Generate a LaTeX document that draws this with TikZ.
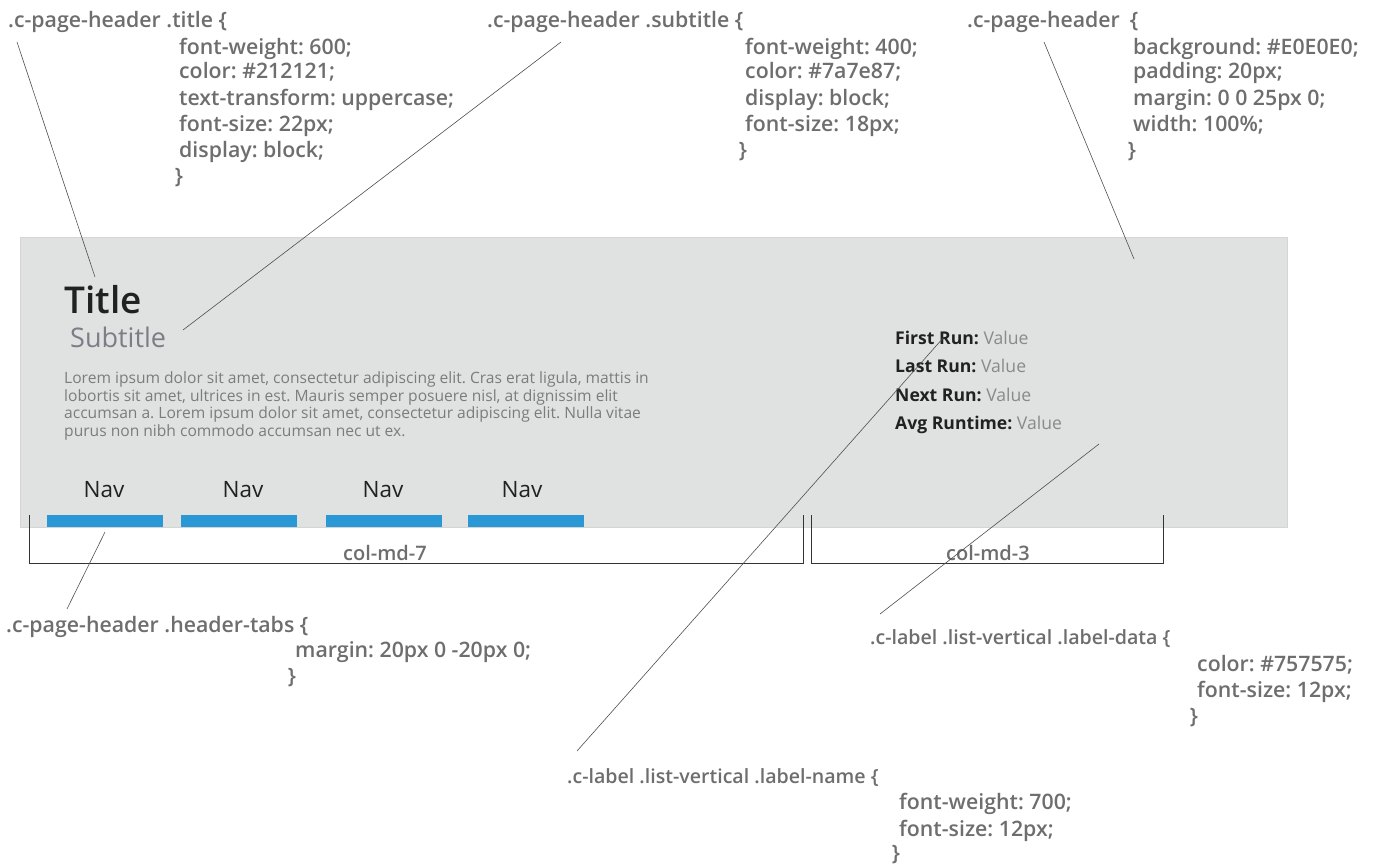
\documentclass[tikz,border=0pt]{standalone}
\usepackage{fontspec}
\setmainfont{Open Sans}
\newfontfamily\semib{Open Sans Semibold}
\frenchspacing
\definecolor{annc}{HTML}{6E6E6E}
\definecolor{leadc}{HTML}{505050}
\definecolor{hdrbg}{HTML}{E0E1E1}
\definecolor{hdrbd}{HTML}{D4D6D6}
\definecolor{titlec}{HTML}{212121}
\definecolor{subc}{HTML}{7A7E87}
\definecolor{loremc}{HTML}{7C7C7C}
\definecolor{valc}{HTML}{8A8A8A}
\definecolor{tabc}{HTML}{2998D5}
\definecolor{brc}{HTML}{333333}
\tikzset{
  ann/.style={font=\semib\fontsize{21.3}{25}\selectfont, text=annc, anchor=base west, inner sep=0pt},
  annsm/.style={ann, font=\semib\fontsize{19.6}{23}\selectfont},
  leader/.style={draw=leadc, line width=0.6pt},
  lorem/.style={font=\fontsize{15.6}{18}\selectfont, text=loremc, anchor=base west, inner sep=0pt},
  navlbl/.style={font=\fontsize{22.5}{26}\selectfont, text=titlec, anchor=base, inner sep=0pt},
  tab/.style={fill=tabc, draw=none},
  info/.style={font=\fontsize{17.6}{20}\selectfont, anchor=base west, inner sep=0pt},
  bracket/.style={draw=brc, line width=0.9pt},
  collbl/.style={font=\semib\fontsize{20}{24}\selectfont, text=annc, anchor=base, inner sep=0pt}
}
\begin{document}
\begin{tikzpicture}[x=1pt,y=-1pt]
\useasboundingbox[fill=white] (0,0) rectangle (1377,865);
% header box
\path[fill=hdrbg, draw=hdrbd, line width=0.8pt] (20,237) rectangle (1287,527);
\node[anchor=base west, inner sep=0pt, font=\semib\fontsize{37}{40}\selectfont, text=titlec] (title) at (64,313) {Title};
\node[anchor=base west, inner sep=0pt, font=\fontsize{27}{30}\selectfont, text=subc] (subtitle) at (70,347) {Subtitle};
\node[lorem] (l1) at (64,383) {Lorem ipsum dolor sit amet, consectetur adipiscing elit. Cras erat ligula, mattis in};
\node[lorem] (l2) at (64,401) {lobortis sit amet, ultrices in est. Mauris semper posuere nisl, at dignissim elit};
\node[lorem] (l3) at (64,418) {accumsan a. Lorem ipsum dolor sit amet, consectetur adipiscing elit. Nulla vitae};
\node[lorem] (l4) at (64,436) {purus non nibh commodo accumsan nec ut ex.};
% nav
\node[navlbl] (n1) at (104,497) {Nav};
\node[navlbl] (n2) at (243,497) {Nav};
\node[navlbl] (n3) at (383,497) {Nav};
\node[navlbl] (n4) at (522,497) {Nav};
\path[tab] (47,515) rectangle (163,527);
\path[tab] (181,515) rectangle (297,527);
\path[tab] (326,515) rectangle (442,527);
\path[tab] (468,515) rectangle (584,527);
% info list
\node[info] (i1) at (895,344) {\textcolor{titlec}{\bfseries First Run:} \textcolor{valc}{Value}};
\node[info] (i2) at (895,372) {\textcolor{titlec}{\bfseries Last Run:} \textcolor{valc}{Value}};
\node[info] (i3) at (895,401) {\textcolor{titlec}{\bfseries Next Run:} \textcolor{valc}{Value}};
\node[info] (i4) at (895,429) {\textcolor{titlec}{\bfseries Avg Runtime:} \textcolor{valc}{Value}};
% brackets
\draw[bracket] (29,515) -- (29,563) -- (803,563) -- (803,515);
\draw[bracket] (811,515) -- (811,563) -- (1163,563) -- (1163,515);
\node[collbl] (c7) at (385,560) {col-md-7};
\node[collbl] (c3) at (988,560) {col-md-3};
% annotation: title
\node[ann] (a1) at (8,27) {.c-page-header .title \{};
\node[ann] at (179,54) {font-weight: 600;};
\node[ann] at (179,78) {color: \#212121;};
\node[ann] at (179,105) {text-transform: uppercase;};
\node[ann] at (179,131) {font-size: 22px;};
\node[ann] at (179,157) {display: block;};
\node[ann] at (175,183) {\}};
% annotation: subtitle
\node[ann] (a2) at (487,27) {.c-page-header .subtitle \{};
\node[ann] at (745,54) {font-weight: 400;};
\node[ann] at (745,78) {color: \#7a7e87;};
\node[ann] at (745,105) {display: block;};
\node[ann] at (745,131) {font-size: 18px;};
\node[ann] at (739,157) {\}};
% annotation: header
\node[ann] (a3) at (967,27) {.c-page-header\hspace{10pt}\{};
\node[ann] at (1133,54) {background: \#E0E0E0;};
\node[ann] at (1133,78) {padding: 20px;};
\node[ann] at (1133,105) {margin: 0 0 25px 0;};
\node[ann] at (1133,131) {width: 100\%;};
\node[ann] at (1128,157) {\}};
% annotation: header tabs
\node[ann] (a4) at (6,632) {.c-page-header .header-tabs \{};
\node[ann] at (295,657) {margin: 20px 0 -20px 0;};
\node[ann] at (288,683) {\}};
% annotation: label data
\node[annsm] (a5) at (870,644) {.c-label .list-vertical .label-data \{};
\node[ann] at (1197,671) {color: \#757575;};
\node[ann] at (1197,697) {font-size: 12px;};
\node[ann] at (1190,723) {\}};
% annotation: label name
\node[annsm] (a6) at (567,783) {.c-label .list-vertical .label-name \{};
\node[ann] at (899,809) {font-weight: 700;};
\node[ann] at (899,836) {font-size: 12px;};
\node[ann] at (892,860) {\}};
% leader coordinates
\coordinate (s1) at (17,42);   \coordinate (e1) at (95,277);
\coordinate (s2) at (561,42);  \coordinate (e2) at (183,330);
\coordinate (s3) at (1044,42); \coordinate (e3) at (1134,259);
\coordinate (s4) at (105,532); \coordinate (e4) at (67,609);
\coordinate (s5) at (577,751); \coordinate (e5) at (944,337);
\coordinate (s6) at (880,614); \coordinate (e6) at (1099,444);
\draw[leader] (s1) -- (e1);
\draw[leader] (s2) -- (e2);
\draw[leader] (s3) -- (e3);
\draw[leader] (s4) -- (e4);
\draw[leader] (s5) -- (e5);
\draw[leader] (s6) -- (e6);
\end{tikzpicture}
\end{document}
